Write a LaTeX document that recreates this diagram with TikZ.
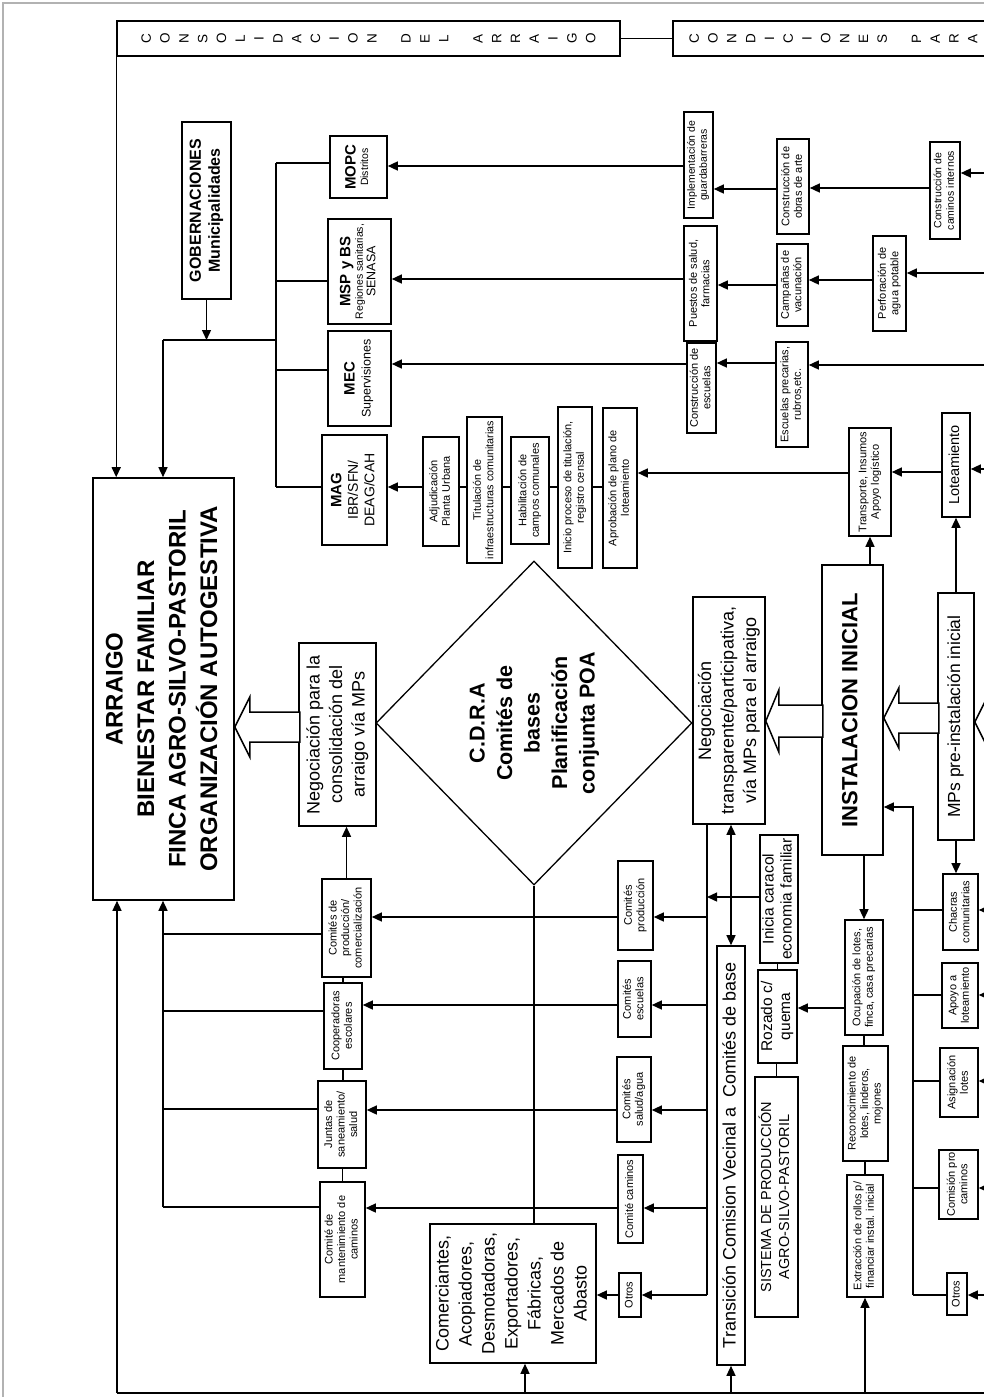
\documentclass[tikz,border=0pt]{standalone}
\usepackage{fontspec}
\setmainfont{Liberation Sans}
\setsansfont{Liberation Sans}
\usetikzlibrary{arrows.meta,shapes.geometric,calc}
\newcommand\bx[8]{\node[bxs,#6,minimum width={(#4)-(#2)},minimum height={(#5)-(#3)}] (#1) at ({((#2)+(#4))/2},{((#3)+(#5))/2}) {\rotatebox{90}{#7\begin{tabular}{@{}c@{}}#8\end{tabular}}};}
\newcommand\blk[5]{\draw[hollow] #1 -- ++(#2,-#3) -- ++(0,#3-#4) -- ++(#5,0) -- ++(0,2*#4) -- ++(-#5,0) -- ++(0,#3-#4) -- cycle;}
\newcommand\fS{\fontsize{11}{12.5}\selectfont}
\newcommand\fSS{\fontsize{10.5}{12.5}\selectfont}
\newcommand\fM{\fontsize{15.5}{18}\selectfont}
\newcommand\fL{\fontsize{18}{22.5}\selectfont}
\newcommand\hlet[1]{\makebox[18.8pt]{\raisebox{-0.5\height}{\rotatebox{90}{#1}}}}
\newcommand\hgap{\hspace{15.4pt}}
\begin{document}
\begin{tikzpicture}[x=1pt,y=-1pt,
  bxs/.style={draw,line width=1.6pt,inner sep=0.5pt,fill=white},
  ln/.style={line width=1.4pt},
  arr/.style={line width=1.4pt,-{Triangle[length=10pt,width=9pt]}},
  dbl/.style={line width=1.4pt,{Triangle[length=10pt,width=9pt]}-{Triangle[length=10pt,width=9pt]}},
  hollow/.style={draw,line width=1.5pt,fill=white,line join=miter}]
\useasboundingbox (0,0) rectangle (984,1397);
\fill[white] (0,0) rectangle (984,1397);
\draw[gray!60,line width=1.2pt] (3,1410) -- (3,3) -- (1010,3);

% headers
\node[bxs,minimum width=503,minimum height=35] (h1) at (368.5,38.5)
 {\fontsize{13.5}{13.5}\selectfont\hlet C\hlet O\hlet N\hlet S\hlet O\hlet L\hlet I\hlet D\hlet A\hlet C\hlet I\hlet O\hlet N\hgap\hlet D\hlet E\hlet L\hgap\hlet A\hlet R\hlet R\hlet A\hlet I\hlet G\hlet O};
\node[bxs,minimum width=340,minimum height=35] (h2) at (843,38.5) {};
\node[anchor=west,inner sep=0] (h2t) at (684.6,38.5)
 {\fontsize{13.5}{13.5}\selectfont\hlet C\hlet O\hlet N\hlet D\hlet I\hlet C\hlet I\hlet O\hlet N\hlet E\hlet S\hgap\hlet P\hlet A\hlet R\hlet A};

% main boxes
\bx{arr}{93}{478}{234}{900}{}{\bfseries\fontsize{24}{31.5}\selectfont}{ARRAIGO\\BIENESTAR FAMILIAR\\FINCA AGRO-SILVO-PASTORIL\\ORGANIZACIÓN AUTOGESTIVA}
\bx{gob}{182}{122}{231}{299}{}{\bfseries\fontsize{16}{19}\selectfont}{GOBERNACIONES\\Municipalidades}
\bx{mopc}{330}{136}{387}{198}{}{\fSS}{{\bfseries\fontsize{15}{17}\selectfont MOPC}\\Distritos}
\bx{msp}{328}{219}{391}{324}{}{\fSS}{{\bfseries\fontsize{15}{17}\selectfont MSP y BS}\\Regiones sanitarias,\\{\fontsize{12.5}{14}\selectfont SENASA}}
\bx{mec}{328}{331}{391}{426}{}{\fontsize{12.5}{16}\selectfont}{{\bfseries\fontsize{15}{17}\selectfont MEC}\\Supervisiones}
\bx{mag}{322}{435}{387}{545}{}{\fontsize{14}{16.5}\selectfont}{{\bfseries\fontsize{15}{17}\selectfont MAG}\\IBR/SFN/\\DEAG/CAH}

\bx{adj}{423}{437}{459}{546}{}{\fS}{Adjudicación\\Planta Urbana}
\bx{tit}{467}{417}{502}{563}{}{\fontsize{10.8}{12.5}\selectfont}{Titulación de\\infraestructuras comunitarias}
\bx{hab}{511}{437}{549}{544}{}{\fS}{Habilitación de\\campos comunales}
\bx{ini}{558}{407}{592}{568}{}{\fS}{Inicio proceso de titulación,\\registro censal}
\bx{apr}{603}{408}{637}{568}{}{\fS}{Aprobación de plano de\\loteamiento}

\bx{impl}{684}{112}{713}{218}{}{\fontsize{10.5}{12}\selectfont}{Implementación de\\guardabarreras}
\bx{obras}{777}{139}{809}{234}{}{\fS}{Construcción de\\obras de arte}
\bx{camint}{930}{142}{960}{239}{}{\fSS}{Construcción de\\caminos internos}
\bx{puestos}{684}{226}{717}{341}{}{\fS}{Puestos de salud,\\farmacias}
\bx{camp}{777}{244}{808}{326}{}{\fS}{Campañas de\\vacunación}
\bx{perf}{873}{236}{906}{331}{}{\fS}{Perforación de\\agua potable}
\bx{consesc}{687}{343}{716}{433}{}{\fS}{Construcción de\\escuelas}
\bx{escprec}{776}{342}{808}{447}{}{\fS}{Escuelas precarias,\\rubros,etc.}
\bx{transp}{849}{428}{891}{536}{}{\fS}{Transporte, Insumos\\Apoyo logístico}
\bx{lote}{942}{413}{970}{517}{}{\fontsize{14.5}{16}\selectfont}{Loteamiento}

\bx{neg1}{299}{643}{376}{826}{}{\fL}{Negociación para la\\consolidación del\\arraigo vía MPs}
\bx{neg2}{693}{597}{765}{824}{}{\fL}{Negociación\\transparente/participativa,\\vía MPs para el arraigo}
\bx{inst}{822}{565}{883}{855}{}{\bfseries\fontsize{22}{24}\selectfont}{INSTALACION INICIAL}
\bx{mps}{938}{593}{974}{840}{}{\fontsize{17.5}{20}\selectfont}{MPs pre-instalación inicial}
\node[draw,diamond,line width=1.3pt,inner sep=0pt,minimum width=316,minimum height=324] (cdra) at (534,723)
 {\rotatebox{90}{\bfseries\fontsize{21.5}{27.5}\selectfont\begin{tabular}{@{}c@{}}C.D.R.A\\Comités de\\bases\\Planificación\\conjunta POA\end{tabular}}};

\bx{cpc}{322}{879}{371}{977}{}{\fS}{Comités de\\producción/\\comercialización}
\bx{coop}{324}{983}{362}{1069}{}{\fS}{Cooperadoras\\escolares}
\bx{juntas}{318}{1081}{366}{1168}{}{\fS}{Juntas de\\saneamiento/\\salud}
\bx{cmant}{320}{1182}{365}{1297}{}{\fS}{Comité de\\mantenimiento de\\caminos}

\bx{cp}{618}{861}{653}{950}{}{\fS}{Comités\\producción}
\bx{ce}{618}{961}{651}{1037}{}{\fS}{Comités\\escuelas}
\bx{cs}{617}{1057}{651}{1142}{}{\fS}{Comités\\salud/agua}
\bx{cc}{618}{1155}{643}{1243}{}{\fS}{Comité caminos}
\bx{otl}{619}{1273}{641}{1317}{}{\fS}{Otros}
\bx{com}{430}{1224}{596}{1363}{}{\fontsize{18}{23}\selectfont}{Comerciantes,\\Acopiadores,\\Desmotadoras,\\Exportadores,\\Fábricas,\\Mercados de\\Abasto}

\bx{trans}{717}{946}{745}{1365}{}{\fL}{Transición Comision Vecinal a\ \ Comités de base}
\bx{inicia}{760}{835}{798}{963}{}{\fM}{Inicia caracol\\economia familiar}
\bx{rozado}{758}{970}{797}{1063}{}{\fM}{Rozado c/\\quema}
\bx{sist}{755}{1077}{798}{1317}{}{\fontsize{14.5}{18}\selectfont}{SISTEMA DE PRODUCCIÓN\\AGRO-SILVO-PASTORIL}
\bx{ocup}{845}{920}{883}{1035}{}{\fS}{Ocupación de lotes,\\finca, casa precarias}
\bx{recon}{843}{1046}{888}{1161}{}{\fS}{Reconocimiento de\\lotes, linderos,\\mojones}
\bx{extr}{847}{1175}{883}{1297}{}{\fS}{Extracción de rollos p/\\financiar instal. inicial}

\bx{chac}{943}{874}{978}{950}{}{\fS}{Chacras\\comunitarias}
\bx{apoyo}{942}{963}{978}{1028}{}{\fS}{Apoyo a\\loteamiento}
\bx{asig}{940}{1048}{978}{1117}{}{\fS}{Asignación\\lotes}
\bx{comis}{939}{1150}{978}{1219}{}{\fS}{Comisión pro\\caminos}
\bx{otr}{947}{1273}{967}{1315}{}{\fS}{Otros}

% coordinates
\coordinate (b1l) at (163,340);
\coordinate (b1r) at (276,340);
\coordinate (bt) at (276,163);
\coordinate (bb) at (276,487);
\coordinate (lb) at (163,1207);
\coordinate (bl) at (117,1393);
\coordinate (rb) at (707,1295);
\coordinate (rrb) at (913,1295);
\coordinate (cb) at (525,1393);

% top connectors
\draw[ln] (h1.east) -- (h2.west);
\draw[arr] (h1.south west) -- (h1.south west |- arr.north);
\draw[ln] (b1l) -- (b1r);
\draw[arr] (gob.south) -- (gob.south |- b1l);
\draw[arr] (b1l) -- (b1l |- arr.north);
\draw[ln] (bt) -- (bb);
\draw[ln] (bt) -- (bt -| mopc.west);
\draw[ln] (bt |- 0,281) -- (msp.west |- 0,281);
\draw[ln] (bt |- 0,370) -- (mec.west |- 0,370);
\draw[ln] (bb) -- (bb -| mag.west);

\draw[arr] (impl.west |- 0,166) -- (mopc.east |- 0,166);
\draw[arr] (obras.west |- 0,189) -- (impl.east |- 0,189);
\draw[arr] (camint.west |- 0,188) -- (obras.east |- 0,188);
\draw[arr] (1010,173) -- (camint.east |- 0,173);
\draw[arr] (puestos.west |- 0,279) -- (msp.east |- 0,279);
\draw[arr] (camp.west |- 0,285) -- (puestos.east |- 0,285);
\draw[arr] (perf.west |- 0,280) -- (camp.east |- 0,280);
\draw[arr] (1010,273) -- (perf.east |- 0,273);
\draw[arr] (consesc.west |- 0,364) -- (mec.east |- 0,364);
\draw[arr] (escprec.west |- 0,363) -- (consesc.east |- 0,363);
\draw[arr] (1010,365) -- (escprec.east |- 0,365);
\draw[arr] (lote.west |- 0,472) -- (transp.east |- 0,472);
\draw[arr] (1010,469) -- (lote.east |- 0,469);
\draw[arr] (transp.west |- 0,473) -- (apr.east |- 0,473);
\draw[ln] (apr.west |- 0,487) -- (ini.east |- 0,487);
\draw[ln] (ini.west |- 0,487) -- (hab.east |- 0,487);
\draw[ln] (hab.west |- 0,487) -- (tit.east |- 0,487);
\draw[ln] (tit.west |- 0,487) -- (adj.east |- 0,487);
\draw[arr] (adj.west |- 0,487) -- (mag.east |- 0,487);
\draw[arr] (inst.north -| transp.south) -- (transp.south);
\draw[arr] (mps.north) -- (mps.north |- lote.south);

% block arrows
\blk{(arr.east |- 0,727)}{15}{30}{15}{50}
\blk{(neg2.east |- 0,721)}{13}{31}{16}{44}
\blk{(inst.east |- 0,718)}{15}{30}{15}{40}
\blk{(mps.east |- 0,722)}{16}{32}{16}{40}

% lower left
\draw[arr] (cpc.north) -- (cpc.north |- neg1.south);
\draw[ln] (coop.north) -- (coop.north |- cpc.south);
\draw[ln] (juntas.north -| coop.south) -- (coop.south);
\draw[ln] (cmant.north) -- (cmant.north |- juntas.south);
\draw[ln] (cmant.west |- lb) -- (lb);
\draw[arr] (lb) -- (lb |- arr.south);
\draw[ln] (cpc.west |- 0,934) -- (lb |- 0,934);
\draw[ln] (coop.west |- 0,1011) -- (lb |- 0,1011);
\draw[ln] (juntas.west |- 0,1109) -- (lb |- 0,1109);
\draw[arr] (bl) -- (bl |- arr.south);
\draw[ln] (bl) -- (1010,1393);
\draw[ln] (cdra.south) -- (cdra.south |- com.north);

% committees
\draw[ln] (neg2.south -| rb) -- (rb);
\draw[arr] (rb) -- (otl.east |- rb);
\draw[arr] (rb |- 0,917) -- (cp.east |- 0,917);
\draw[arr] (cp.west |- 0,917) -- (cpc.east |- 0,917);
\draw[arr] (rb |- 0,1005) -- (ce.east |- 0,1005);
\draw[arr] (ce.west |- 0,1005) -- (coop.east |- 0,1005);
\draw[arr] (rb |- 0,1110) -- (cs.east |- 0,1110);
\draw[arr] (cs.west |- 0,1110) -- (juntas.east |- 0,1110);
\draw[arr] (rb |- 0,1208) -- (cc.east |- 0,1208);
\draw[arr] (cc.west |- 0,1208) -- (cmant.east |- 0,1208);
\draw[arr] (otl.west) -- (otl.west -| com.east);
\draw[arr] (cb) -- (cb |- com.south);

% middle right
\draw[dbl] (neg2.south -| trans.north) -- (trans.north);
\draw[arr] (trans.south |- bl) -- (trans.south);
\draw[arr] (inicia.west |- 0,897) -- (rb |- 0,897);
\draw[ln] (rozado.north) -- (rozado.north |- inicia.south);
\draw[ln] (sist.north) -- (sist.north |- rozado.south);
\draw[arr] (ocup.west |- 0,1008) -- (rozado.east |- 0,1008);
\draw[arr] (inst.south -| ocup.north) -- (ocup.north);
\draw[ln] (ocup.south) -- (ocup.south |- recon.north);
\draw[ln] (extr.north) -- (extr.north |- recon.south);
\draw[arr] (extr.south |- bl) -- (extr.south);

% right bus
\draw[arr] (rrb) -- (rrb |- 0,807) -- (inst.east |- 0,807);
\draw[arr] (mps.south) -- (mps.south |- chac.north);
\draw[ln] (rrb |- 0,910) -- (chac.west |- 0,910);
\draw[ln] (rrb |- 0,995) -- (apoyo.west |- 0,995);
\draw[ln] (rrb |- 0,1081) -- (asig.west |- 0,1081);
\draw[ln] (rrb |- 0,1188) -- (comis.west |- 0,1188);
\draw[ln] (rrb) -- (otr.west |- rrb);
\draw[arr] (1010,910) -- (chac.east |- 0,910);
\draw[arr] (1010,995) -- (apoyo.east |- 0,995);
\draw[arr] (1010,1081) -- (asig.east |- 0,1081);
\draw[arr] (1010,1188) -- (comis.east |- 0,1188);
\draw[arr] (1010,1295) -- (otr.east |- 0,1295);
\end{tikzpicture}
\end{document}
